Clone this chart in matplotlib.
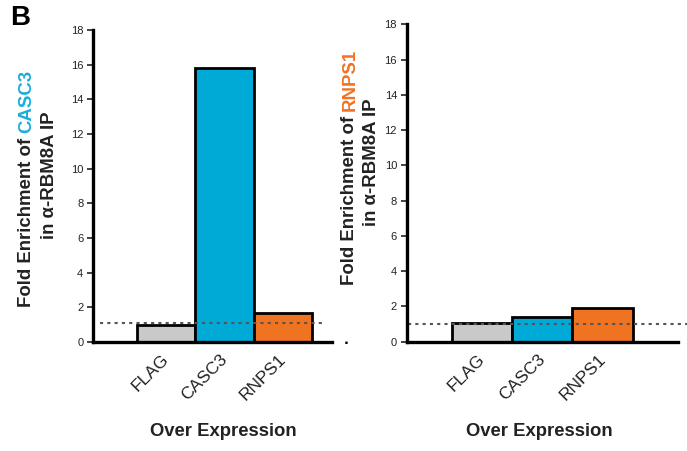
import matplotlib

matplotlib.use("Agg")
import matplotlib.pyplot as plt
import matplotlib.transforms as mtransforms

plt.rcParams["font.family"] = ["Liberation Sans", "DejaVu Sans"]

CATEGORIES = ["FLAG", "CASC3", "RNPS1"]
CASC3_ENRICHMENT = [0.98, 15.83, 1.69]
RNPS1_ENRICHMENT = [1.05, 1.42, 1.90]
BASELINE = [1.1, 1.0]
Y_TICKS = [0, 2, 4, 6, 8, 10, 12, 14, 16, 18]

BAR_COLORS = ["#c9c9c9", "#00aad6", "#f07322"]
TARGET_COLORS = {"CASC3": "#1aaedb", "RNPS1": "#f07322"}

W, H = 687, 451


def px_box(x0, y_top, x1, y_bottom):
    return [x0 / W, 1 - y_bottom / H, (x1 - x0) / W, (y_bottom - y_top) / H]


def draw_panel(fig, ax, values, baseline, xlim, line_span):
    x = range(len(CATEGORIES))
    ax.bar(x, values, width=1.0, color=BAR_COLORS, edgecolor="black", linewidth=2.0, zorder=2)
    ax.plot(line_span, [baseline, baseline], linestyle=(0, (1.5, 2.0)), color="#555555",
            linewidth=1.5, zorder=3, clip_on=False)
    ax.set_xlim(*xlim)
    ax.set_ylim(0, 18)
    ax.set_yticks(Y_TICKS)
    ax.set_xticks(list(x))
    ax.set_xticklabels(CATEGORIES, rotation=45, ha="right", rotation_mode="anchor",
                       fontsize=12.5, color="#222222")
    ax.tick_params(axis="x", length=0, pad=7)
    ax.tick_params(axis="y", direction="out", length=4, width=1.2, labelsize=8,
                   colors="#222222", pad=3)
    # nudge the rotated labels left so they end at the bar centres
    shift = mtransforms.ScaledTranslation(-5 / 100, 0, fig.dpi_scale_trans)
    for lbl in ax.get_xticklabels():
        lbl.set_transform(lbl.get_transform() + shift)
    for side in ("top", "right"):
        ax.spines[side].set_visible(False)
    for side in ("left", "bottom"):
        ax.spines[side].set_linewidth(2.4)
        ax.spines[side].set_color("black")
        ax.spines[side].set_zorder(4)


def ylabel_pair(fig, x1, y_bottom, x2, y_mid, target, renderer):
    first = fig.text(x1, y_bottom, "Fold Enrichment of", rotation=90, ha="center",
                     va="bottom", fontsize=13.4, fontweight="bold", color="#222222")
    bb = first.get_window_extent(renderer=renderer)
    y_next = (bb.y1 + 5) / fig.bbox.height
    fig.text(x1, y_next, target, rotation=90, ha="center", va="bottom", fontsize=13.4,
             fontweight="bold", color=TARGET_COLORS[target])
    fig.text(x2, y_mid, "in α-RBM8A IP", rotation=90, ha="center", va="center",
             fontsize=13.4, fontweight="bold", color="#222222")


fig = plt.figure(figsize=(W / 100, H / 100), dpi=100)

ax1 = fig.add_axes(px_box(93, 30, 332, 342))
draw_panel(fig, ax1, CASC3_ENRICHMENT, BASELINE[0], (-1.25, 2.84), [-1.13, 2.71])

ax2 = fig.add_axes(px_box(406.7, 24.3, 678, 341.7))
draw_panel(fig, ax2, RNPS1_ENRICHMENT, BASELINE[1], (-1.25, 3.25), [-1.23, 3.42])

for xc in (223.5 / W, 539 / W):
    fig.text(xc, 1 - 432 / H, "Over Expression", ha="center", va="center",
             fontsize=13.3, fontweight="bold", color="#222222")

fig.canvas.draw()
renderer = fig.canvas.get_renderer()
ylabel_pair(fig, 27 / W, 1 - 307 / H, 50 / W, 1 - 175 / H, "CASC3", renderer)
ylabel_pair(fig, 350 / W, 1 - 285 / H, 372 / W, 1 - 162 / H, "RNPS1", renderer)

fig.text(10 / W, 1 - 18 / H, "B", ha="left", va="center", fontsize=20, fontweight="bold")
fig.text(346 / W, 1 - 343 / H, "■", ha="center", va="center", fontsize=3.5, color="black")

fig.savefig("out.png", dpi=100)
